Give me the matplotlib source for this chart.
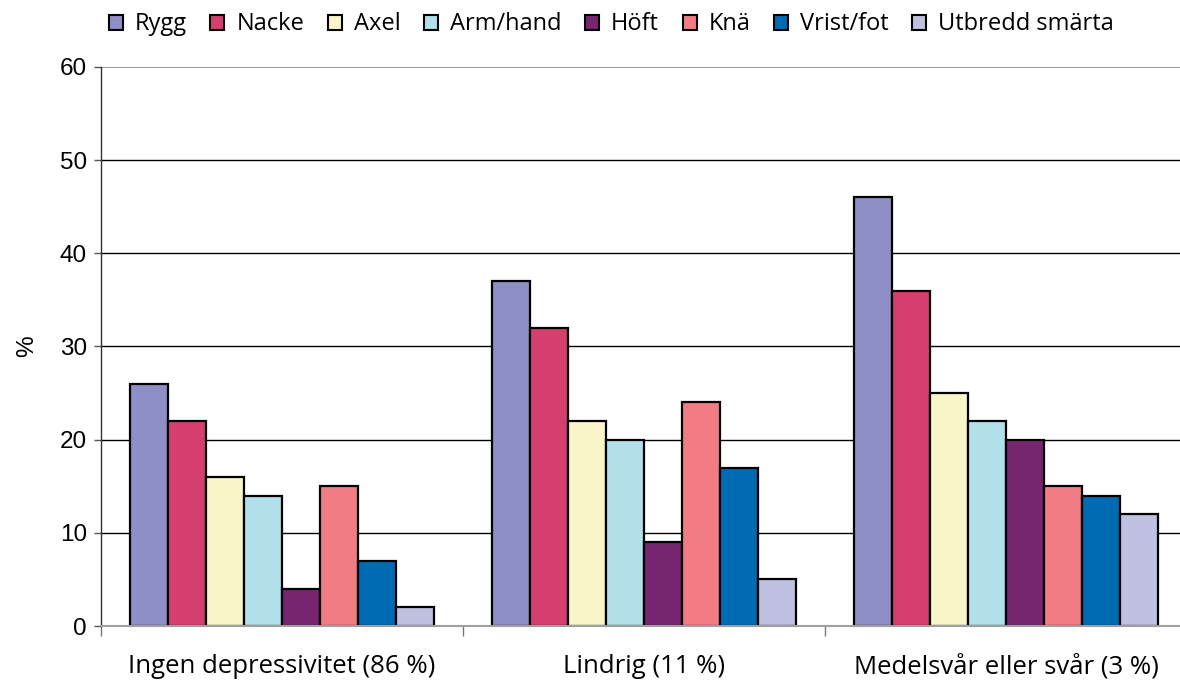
import matplotlib

matplotlib.use("Agg")
import matplotlib.pyplot as plt
import numpy as np
from matplotlib.patches import Patch

# --- data ------------------------------------------------------------------
groups = ["Ingen depressivitet (86 %)", "Lindrig (11 %)", "Medelsvår eller svår (3 %)"]
series = ["Rygg", "Nacke", "Axel", "Arm/hand", "Höft", "Knä", "Vrist/fot", "Utbredd smärta"]
values = {
    "Rygg": [26, 37, 46],
    "Nacke": [22, 32, 36],
    "Axel": [16, 22, 25],
    "Arm/hand": [14, 20, 22],
    "Höft": [4, 9, 20],
    "Knä": [15, 24, 15],
    "Vrist/fot": [7, 17, 14],
    "Utbredd smärta": [2, 5, 12],
}
yticks = [0, 10, 20, 30, 40, 50, 60]

colors = ["#8E8FC5", "#D43F6E", "#F8F5C8", "#B1DFEA",
          "#772571", "#F27C84", "#006AB3", "#C0C0E0"]

LABEL_FONT = ["Open Sans", "DejaVu Sans"]
TICK_FONT = ["Liberation Sans", "DejaVu Sans"]

fig = plt.figure(figsize=(11.8, 6.82), dpi=100)
ax = fig.add_axes([0.0856, 0.0821, 1 - 0.0856, 0.8197])

x = np.arange(len(groups))
w = 0.105
for i, (name, c) in enumerate(zip(series, colors)):
    offs = (i - (len(series) - 1) / 2) * w
    ax.bar(x + offs, values[name], width=w, color=c, edgecolor="black",
           linewidth=1.6, zorder=3)

ax.set_ylim(0, 60)
ax.set_xlim(-0.5, 2.5 - 7 / 362)

# grid lines
for yv in yticks[1:-1]:
    ax.axhline(yv, color="black", lw=1.0, zorder=1)
ax.axhline(60, color="#888888", lw=1.2, zorder=1)

for s in ["top", "right"]:
    ax.spines[s].set_visible(False)
ax.spines["left"].set_color("#333333")
ax.spines["left"].set_linewidth(1.0)
ax.spines["bottom"].set_color("#A0A0A0")
ax.spines["bottom"].set_linewidth(1.5)
ax.spines["bottom"].set_zorder(4)

ax.set_yticks(yticks)
ax.set_yticklabels([str(t) for t in yticks], family=TICK_FONT, fontsize=17.5)
ax.tick_params(axis="y", length=5, width=1, color="#555555", pad=5)

ax.set_xticks(x)
ax.set_xticklabels(groups, family=LABEL_FONT, fontsize=18.5)
ax.tick_params(axis="x", which="major", length=0, pad=20)
ax.set_xticks(np.arange(len(groups)) - 0.5, minor=True)
ax.tick_params(axis="x", which="minor", length=7, width=1, color="#777777",
               direction="out")

ax.set_ylabel("%", family=TICK_FONT, fontsize=17.5, labelpad=16)

handles = [Patch(facecolor=c, edgecolor="black", linewidth=1.5) for c in colors]
fig.legend(handles, series, loc="upper left", bbox_to_anchor=(0.074, 1.013),
           ncol=len(series), frameon=False, handlelength=0.6, handleheight=0.6,
           handletextpad=0.5, columnspacing=1.0,
           prop={"family": LABEL_FONT, "size": 17})

fig.savefig("out.png", dpi=100)
